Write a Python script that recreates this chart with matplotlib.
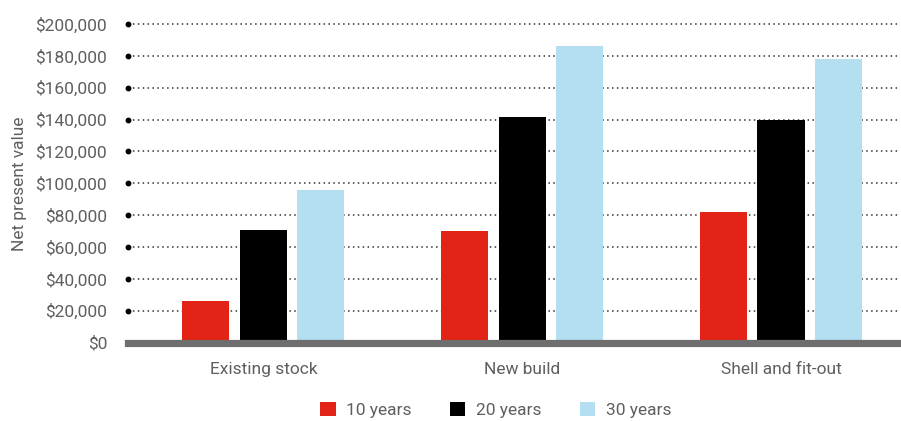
import numpy as np
import matplotlib
matplotlib.use("Agg")
import matplotlib.pyplot as plt
from matplotlib.patches import Patch
import matplotlib.transforms as mtransforms

# data
categories = ["Existing stock", "New build", "Shell and fit-out"]
series_names = ["10 years", "20 years", "30 years"]
npv_10 = [26000, 70000, 82000]
npv_20 = [70500, 141500, 139500]
npv_30 = [95500, 186000, 178000]
y_ticks = [0, 20000, 40000, 60000, 80000, 100000, 120000, 140000, 160000, 180000, 200000]

colors = ["#e42317", "#000000", "#b3dff1"]
text_grey = "#5f5f5f"

plt.rcParams['font.family'] = ['Roboto', 'DejaVu Sans']
fs = 12.5

fig = plt.figure(figsize=(9.01, 4.21), dpi=100)
ax = fig.add_axes([128 / 901, 1 - 342.5 / 421, (900 - 128) / 901, (342.5 - 24) / 421])

x = np.arange(len(categories))
width = 0.182
step = 0.222
for i, vals in enumerate([npv_10, npv_20, npv_30]):
    ax.bar(x + (i - 1) * step, vals, width, color=colors[i], zorder=3)

ax.set_xlim(-0.523, 2.46)
ax.set_ylim(0, 200000)

# dotted gridlines with a dot at the left end
for t in y_ticks[1:]:
    ax.axhline(t, color="#333333", lw=1.1, ls=(0, (1, 2.2)), zorder=1, clip_on=False)
trans = mtransforms.blended_transform_factory(ax.transAxes, ax.transData)
ax.plot([0] * (len(y_ticks) - 1), y_ticks[1:], 'o', color="black", ms=3.2,
        transform=trans, clip_on=False, zorder=4)

# thick baseline
ax.axhline(0, color="#6e6e6e", lw=5.2, zorder=5, clip_on=False)

for s in ax.spines.values():
    s.set_visible(False)
ax.tick_params(length=0)
ax.set_yticks(y_ticks)
ax.set_yticklabels(["${:,}".format(t) for t in y_ticks], color=text_grey, fontsize=fs)
ax.tick_params(axis='y', pad=15)
ax.set_xticks(x)
ax.set_xticklabels(categories, color=text_grey, fontsize=fs)
ax.tick_params(axis='x', pad=14)
ax.set_ylabel("Net present value", color=text_grey, fontsize=fs, labelpad=6)

handles = [Patch(facecolor=c, edgecolor='none') for c in colors]
fig.legend(handles, series_names, loc="center", bbox_to_anchor=(0.55, 0.027),
           ncol=3, frameon=False, fontsize=fs, handlelength=0.9, handleheight=0.9,
           handletextpad=0.6, columnspacing=2.2, labelcolor=text_grey)

fig.savefig("out.png", dpi=100)
